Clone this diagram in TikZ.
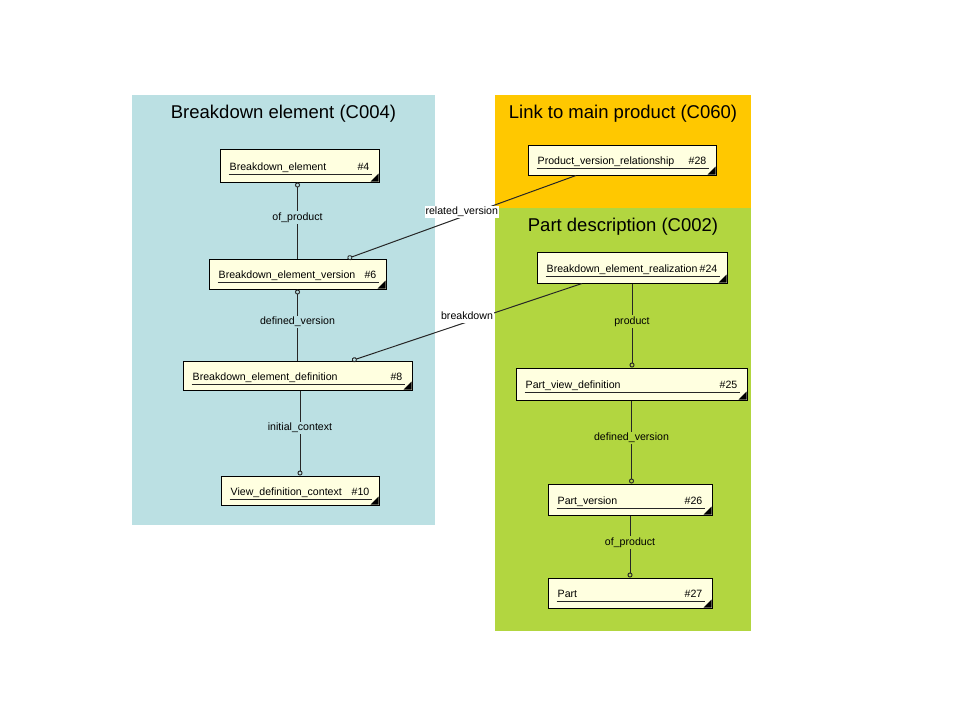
\documentclass[tikz,border=0pt]{standalone}
\usepackage{fontspec}
\setmainfont{Liberation Sans}
\usetikzlibrary{arrows.meta}
\definecolor{pblue}{RGB}{187,224,227}
\definecolor{porange}{RGB}{255,200,0}
\definecolor{pgreen}{RGB}{178,214,64}
\definecolor{boxfill}{RGB}{255,255,224}
\tikzset{
  ebox/.style={draw=black, line width=1pt, fill=boxfill, inner sep=0pt},
  etext/.style={font=\fontsize{10.6}{12}\selectfont, inner sep=0pt, text=black},
  uline/.style={draw=black!85, line width=1pt},
  ptitle/.style={font=\fontsize{18.5}{22}\selectfont, inner sep=0pt, anchor=base},
  conn/.style={draw=black!85, line width=1pt},
  ctip/.tip={Circle[open, length=5pt, width=5pt, line width=0.9pt]},
  clabel/.style={font=\fontsize{10.6}{12}\selectfont, inner sep=1pt, text height=8pt, text depth=2.5pt}
}
\newcommand\ent[7]{%
  \node[ebox, minimum width=#4pt, minimum height=#5pt] (#1) at (#2,#3) {};
  \draw[uline] ([xshift=9pt,yshift=-8.5pt]#1.west) -- ([xshift=-8pt,yshift=-8.5pt]#1.east);
  \node[etext, anchor=base west] (#1-t) at ([xshift=10pt,yshift=-4.5pt]#1.west) {#6};
  \node[etext, anchor=base east] (#1-n) at ([xshift=-10pt,yshift=-4.5pt]#1.east) {#7};
  \fill[black] ([xshift=-1pt,yshift=1pt]#1.south east) -- ++(-8pt,0pt) -- ++(8pt,8pt) -- cycle;
}
\begin{document}
\begin{tikzpicture}[x=1pt,y=-1pt]
\useasboundingbox (0,0) rectangle (960,720);
\fill[white] (0,0) rectangle (960,720);
% panels
\fill[pblue] (132,95) rectangle (435,525);
\fill[porange] (495,95) rectangle (751,208);
\fill[pgreen] (495,208) rectangle (751,631);
\node[ptitle] (t1) at (283.5,118) {Breakdown element (C004)};
\node[ptitle] (t2) at (623,118) {Link to main product (C060)};
\node[ptitle] (t3) at (623,231) {Part description (C002)};
% entities
\ent{b4}{299.5}{165.5}{159}{33}{Breakdown\_element}{\#4}
\ent{b6}{297.5}{274}{177}{30}{Breakdown\_element\_version}{\#6}
\ent{b8}{297.5}{375.5}{229}{29}{Breakdown\_element\_definition}{\#8}
\ent{b10}{300}{490.5}{158}{29}{View\_definition\_context}{\#10}
\ent{b28}{622}{160}{188}{30}{Product\_version\_relationship}{\#28}
\ent{b24}{632}{267.5}{190}{31}{Breakdown\_element\_realization}{\#24}
\ent{b25}{631.5}{384}{231}{32}{Part\_view\_definition}{\#25}
\ent{b26}{630}{499.5}{164}{31}{Part\_version}{\#26}
\ent{b27}{630}{593}{164}{30}{Part}{\#27}
% connectors
\draw[conn, ctip-] (b4.south -| b6.north) -- node[clabel, fill=pblue, pos=0.5, yshift=3pt] (l1) {of\_product} (b6.north);
\draw[conn, ctip-] (b6.south) -- node[clabel, fill=pblue, pos=0.5, yshift=3pt] (l2) {defined\_version} (b8.north);
\draw[conn, -ctip] (b8.south -| b10.north) -- node[clabel, fill=pblue, pos=0.5, yshift=5pt] (l3) {initial\_context} (b10.north);
\draw[conn, -ctip] ([xshift=-46pt]b28.south) -- node[clabel, fill=white, pos=0.5, yshift=5pt] (l4) {related\_version} ([xshift=50pt]b6.north);
\draw[conn, -ctip] ([xshift=-50pt]b24.south) -- node[clabel, fill=white, pos=0.5, yshift=5pt] (l5) {breakdown} ([xshift=54.5pt]b8.north);
\draw[conn, -ctip] (b24.south) -- node[clabel, fill=pgreen, pos=0.5, yshift=4pt] (l6) {product} (b24.south |- b25.north);
\draw[conn, -ctip] (b25.south) -- node[clabel, fill=pgreen, pos=0.5, yshift=4pt] (l7) {defined\_version} (b25.south |- b26.north);
\draw[conn, -ctip] (b26.south) -- node[clabel, fill=pgreen, pos=0.5, yshift=4pt] (l8) {of\_product} (b27.north);
\end{tikzpicture}
\end{document}
